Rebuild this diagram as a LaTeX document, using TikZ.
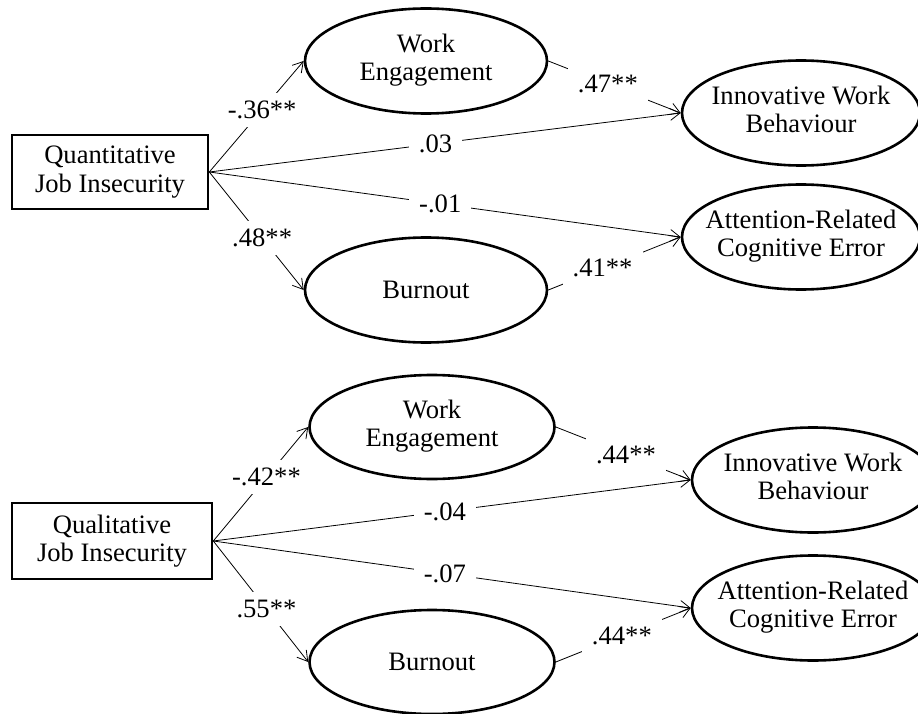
\documentclass[tikz,border=0pt]{standalone}
\usepackage{fontspec}
\setmainfont{Liberation Serif}
\usetikzlibrary{shapes.geometric,arrows.meta}
\newcommand{\twolines}[2]{\makebox[0pt]{\begin{tabular}{@{}c@{}}#1\\#2\end{tabular}}}
\begin{document}
\begin{tikzpicture}[x=1pt, y=-1pt,
  every node/.style={font=\fontsize{26.6}{28.5}\selectfont},
  observed/.style={rectangle, draw, line width=2.6pt, minimum width=196pt, minimum height=74pt, align=center},
  latent/.style={ellipse, draw, line width=2.6pt, minimum width=242pt, minimum height=105pt, inner sep=0pt},
  coef/.style={fill=white, inner xsep=10pt, inner ysep=8pt},
  effect/.style={->, >={Straight Barb[length=10pt,width=12pt]}, line width=0.8pt}]
  \clip (0,0) rectangle (918,714);
  % quantitative job insecurity
  \node[observed] (quant) at (110,172) {Quantitative\\Job Insecurity};
  \node[latent] (we1) at (426,61) {\twolines{Work}{Engagement}};
  \node[latent] (bo1) at (426,290) {\makebox[0pt]{Burnout}};
  \node[latent, minimum width=238pt] (iwb1) at (801,113) {\twolines{Innovative Work}{Behaviour}};
  \node[latent, minimum width=238pt] (arce1) at (801,237) {\twolines{Attention-Related}{Cognitive Error}};
  \draw[effect] (quant.east) -- node[coef, pos=0.56] {-.36**} (we1.west);
  \draw[effect] (quant.east) -- node[coef, pos=0.56] {.48**} (bo1.west);
  \draw[effect] (quant.east) -- node[coef, pos=0.48] {.03} (iwb1.west);
  \draw[effect] (quant.east) -- node[coef, pos=0.49] {-.01} (arce1.west);
  \draw[effect] (we1.east) -- node[coef, pos=0.45] {.47**} (iwb1.west);
  \draw[effect] (bo1.east) -- node[coef, pos=0.41] {.41**} (arce1.west);
  % qualitative job insecurity
  \node[observed, minimum width=200pt, minimum height=76pt] (qual) at (112,541) {Qualitative\\Job Insecurity};
  \node[latent, minimum width=245pt, minimum height=104pt] (we2) at (432,427) {\twolines{Work}{Engagement}};
  \node[latent, minimum width=245pt, minimum height=104pt] (bo2) at (432,662) {\makebox[0pt]{Burnout}};
  \node[latent] (iwb2) at (813,480) {\twolines{Innovative Work}{Behaviour}};
  \node[latent] (arce2) at (813,608) {\twolines{Attention-Related}{Cognitive Error}};
  \draw[effect] (qual.east) -- node[coef, pos=0.56] {-.42**} (we2.west);
  \draw[effect] (qual.east) -- node[coef, pos=0.56] {.55**} (bo2.west);
  \draw[effect] (qual.east) -- node[coef, pos=0.485] {-.04} (iwb2.west);
  \draw[effect] (qual.east) -- node[coef, pos=0.485] {-.07} (arce2.west);
  \draw[effect] (we2.east) -- node[coef, pos=0.52] {.44**} (iwb2.west);
  \draw[effect] (bo2.east) -- node[coef, pos=0.49] {.44**} (arce2.west);
\end{tikzpicture}
\end{document}
